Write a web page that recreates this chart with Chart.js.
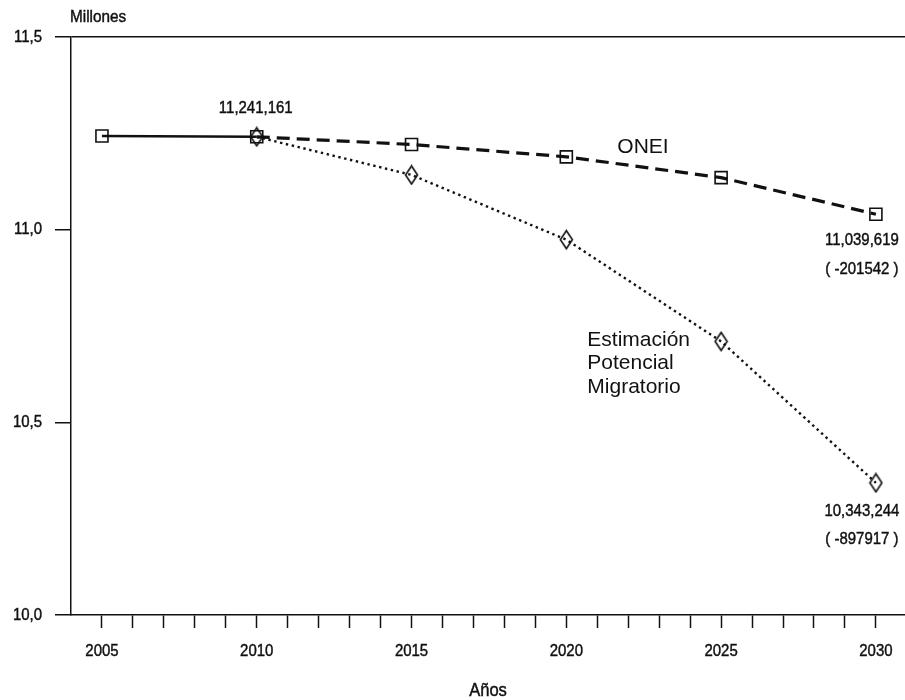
<!DOCTYPE html>
<html>
<head>
<meta charset="utf-8">
<title>Población Cuba 2005-2030</title>
<script src="https://cdn.jsdelivr.net/npm/chart.js@4.4.0/dist/chart.umd.min.js"></script>
<style>
  html, body { margin: 0; padding: 0; background: #fff; }
  #wrap { width: 905px; height: 700px; }
</style>
</head>
<body>
<div id="wrap"><canvas id="myChart" width="905" height="700"></canvas></div>
<script>
// ============================================
// Data (millones de habitantes)
// ============================================
const yearsHist = [2005, 2010];
const popHist = [11.243, 11.241];

const yearsProj = [2010, 2015, 2020, 2025, 2030];
const popOnei = [11.241, 11.221, 11.189, 11.135, 11.040];
const popMigr = [11.241, 11.142, 10.974, 10.710, 10.343];

const yTickValues = [10.0, 10.5, 11.0, 11.5];
const xLabelYears = [2005, 2010, 2015, 2020, 2025, 2030];

const startLabel = '11,241,161';
const oneiEndLabels = ['11,039,619', '( -201542 )'];
const migrEndLabels = ['10,343,244', '( -897917 )'];
const oneiName = 'ONEI';
const migrName = ['Estimación', 'Potencial', 'Migratorio'];

const INK = '#111';
const FONT = '"Liberation Sans", Arial, sans-serif';

// ============================================
// Helpers
// ============================================
function toPoints(xs, ys) {
  return xs.map((x, i) => ({ x: x, y: ys[i] }));
}

// condensed text (no narrow font installed, so squeeze horizontally)
function narrowText(ctx, text, x, y, align, size, squeeze) {
  ctx.save();
  ctx.translate(x, y);
  ctx.scale(squeeze || 0.88, 1);
  ctx.font = size + 'px ' + FONT;
  ctx.textAlign = align;
  ctx.textBaseline = 'middle';
  ctx.fillStyle = INK;
  ctx.strokeStyle = INK;
  ctx.lineWidth = 0.45;
  ctx.fillText(text, 0, 0);
  ctx.strokeText(text, 0, 0);
  ctx.restore();
}

// tall diamond marker
function makeDiamond() {
  const c = document.createElement('canvas');
  c.width = 15; c.height = 21;
  const g = c.getContext('2d');
  g.strokeStyle = INK;
  g.lineWidth = 1.6;
  g.beginPath();
  g.moveTo(7.5, 1.5);
  g.lineTo(13.5, 10.5);
  g.lineTo(7.5, 19.5);
  g.lineTo(1.5, 10.5);
  g.closePath();
  g.stroke();
  return c;
}
const diamond = makeDiamond();

// ============================================
// Text: tick labels + annotations
// ============================================
const annotationPlugin = {
  id: 'annotations',
  afterDatasetsDraw(chart) {
    const ctx = chart.ctx;
    const x = chart.scales.x;
    const y = chart.scales.y;
    const area = chart.chartArea;

    // tick labels
    yTickValues.forEach(v => {
      narrowText(ctx, v.toFixed(1).replace('.', ','), area.left - 29, y.getPixelForValue(v), 'right', 17);
    });
    xLabelYears.forEach(v => {
      narrowText(ctx, String(v), x.getPixelForValue(v), area.bottom + 36, 'center', 17);
    });

    // axis unit
    narrowText(ctx, 'Millones', 70, 17, 'left', 17, 0.9);

    // value labels
    narrowText(ctx, startLabel, x.getPixelForValue(2010) - 1, y.getPixelForValue(popHist[1]) - 28, 'center', 17);

    const endX = x.getPixelForValue(2030) - 14;
    const oEndY = y.getPixelForValue(popOnei[popOnei.length - 1]);
    narrowText(ctx, oneiEndLabels[0], endX, oEndY + 26, 'center', 17);
    narrowText(ctx, oneiEndLabels[1], endX, oEndY + 55, 'center', 17);

    const mEndY = y.getPixelForValue(popMigr[popMigr.length - 1]);
    narrowText(ctx, migrEndLabels[0], endX, mEndY + 28, 'center', 17);
    narrowText(ctx, migrEndLabels[1], endX, mEndY + 56, 'center', 17);

    // axis title
    narrowText(ctx, 'Años', (area.left + area.right) / 2, 691, 'center', 18, 0.92);

    // series names
    ctx.save();
    ctx.fillStyle = INK;
    ctx.textBaseline = 'middle';
    ctx.font = '21px ' + FONT;
    ctx.textAlign = 'left';
    ctx.fillText(oneiName, x.getPixelForValue(2020) + 51, 147);
    migrName.forEach((line, i) => {
      ctx.fillText(line, x.getPixelForValue(2020) + 21, 340 + i * 23.5);
    });
    ctx.restore();
  }
};

// ============================================
// Chart
// ============================================
new Chart(document.getElementById('myChart'), {
  type: 'line',
  data: {
    datasets: [
      {
        label: 'Histórico',
        data: toPoints(yearsHist, popHist),
        borderColor: INK,
        borderWidth: 2.5,
        pointStyle: 'rect',
        pointRadius: [8.5, 0],
        pointBorderWidth: 1.6,
        pointBorderColor: INK,
        pointBackgroundColor: 'rgba(0,0,0,0)',
        clip: false
      },
      {
        label: 'ONEI',
        data: toPoints(yearsProj, popOnei),
        borderColor: INK,
        borderWidth: 3.2,
        borderDash: [13, 7],
        pointStyle: 'rect',
        pointRadius: 8.5,
        pointBorderWidth: 1.6,
        pointBorderColor: INK,
        pointBackgroundColor: 'rgba(0,0,0,0)',
        clip: false
      },
      {
        label: 'Estimación Potencial Migratorio',
        data: toPoints(yearsProj, popMigr),
        borderColor: INK,
        borderWidth: 2.4,
        borderDash: [2.4, 3.6],
        pointStyle: diamond,
        pointRadius: 8,
        clip: false
      }
    ]
  },
  options: {
    responsive: false,
    devicePixelRatio: 1,
    animation: false,
    layout: { autoPadding: false, padding: { top: 37, right: 0, left: 0, bottom: 0 } },
    plugins: {
      legend: { display: false },
      tooltip: { enabled: false }
    },
    scales: {
      x: {
        type: 'linear',
        min: 2004,
        max: 2030.94,
        afterBuildTicks: scale => {
          const t = [];
          for (let v = xLabelYears[0]; v <= xLabelYears[xLabelYears.length - 1]; v++) t.push({ value: v });
          scale.ticks = t;
        },
        afterFit: scale => {
          scale.height = 85;
          scale.paddingLeft = 0;
          scale.paddingRight = 0;
        },
        ticks: { display: false },
        grid: {
          drawOnChartArea: false,
          drawTicks: true,
          tickLength: 13,
          tickColor: INK,
          tickWidth: 1.5
        },
        border: { display: true, color: INK, width: 1.5 }
      },
      y: {
        min: 10,
        max: 11.5,
        afterBuildTicks: scale => {
          scale.ticks = yTickValues.map(v => ({ value: v }));
        },
        afterFit: scale => { scale.width = 71; },
        ticks: { display: false },
        grid: {
          drawOnChartArea: true,
          color: c => (c.tick && c.tick.value === 11.5 ? INK : 'rgba(0,0,0,0)'),
          lineWidth: 1.5,
          tickLength: 16,
          tickColor: INK,
          tickWidth: 1.5
        },
        border: { display: true, color: INK, width: 1.5 }
      }
    }
  },
  plugins: [annotationPlugin]
});
</script>
</body>
</html>
